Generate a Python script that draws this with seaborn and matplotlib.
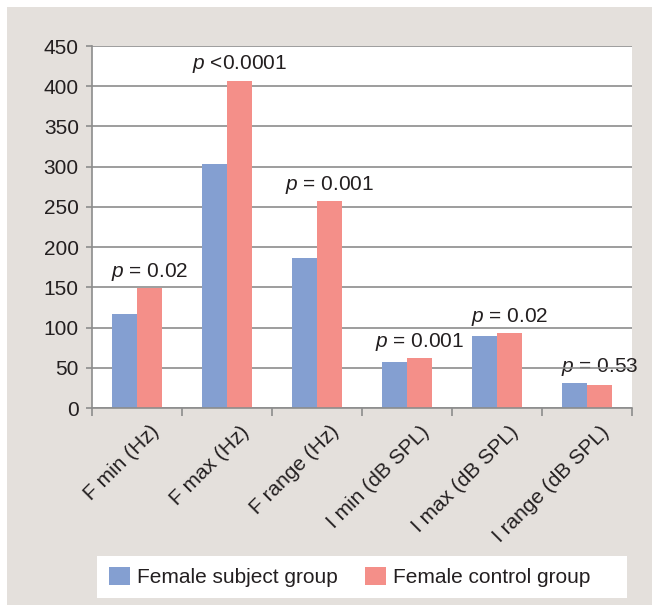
import numpy as np
import pandas as pd
import matplotlib
matplotlib.use('Agg')
import matplotlib.pyplot as plt
import matplotlib.transforms as mtransforms
from matplotlib.patches import Rectangle
import seaborn as sns

# Data
categories = ['F min (Hz)', 'F max (Hz)', 'F range (Hz)',
              'I min (dB SPL)', 'I max (dB SPL)', 'I range (dB SPL)']
subject_values = [117, 303, 186, 57, 89, 31]
control_values = [149, 407, 257, 62, 93, 29]
p_labels = [r'$p$ = 0.02', r'$p$ <0.0001', r'$p$ = 0.001',
            r'$p$ = 0.001', r'$p$ = 0.02', r'$p$ = 0.53']
group_names = ['Female subject group', 'Female control group']
y_ticks = [0, 50, 100, 150, 200, 250, 300, 350, 400, 450]

df = pd.DataFrame({
    'measure': categories * 2,
    'value': subject_values + control_values,
    'group': [group_names[0]] * len(categories) + [group_names[1]] * len(categories),
})

sns.set_style('white')
plt.rcParams['font.family'] = ['Liberation Sans', 'DejaVu Sans']
plt.rcParams['mathtext.fontset'] = 'custom'
plt.rcParams['mathtext.it'] = 'Liberation Sans:italic'
plt.rcParams['mathtext.rm'] = 'Liberation Sans'

text_color = '#231F20'
line_color = '#8C8C8C'
palette = {group_names[0]: '#849FD1', group_names[1]: '#F48F89'}

fig = plt.figure(figsize=(6.52, 6.05), dpi=100)
fig.patch.set_facecolor('white')
# grey panel behind the chart, white legend box
fig.patches.append(Rectangle((7 / 652, 0), 1, 1 - 7 / 605, transform=fig.transFigure,
                             facecolor='#E4E0DC', edgecolor='none', zorder=-10))
fig.patches.append(Rectangle((97 / 652, 7 / 605), 530 / 652, 42 / 605,
                             transform=fig.transFigure, facecolor='white',
                             edgecolor='none', zorder=-5))

ax = fig.add_axes([92 / 652, 197 / 605, 540 / 652, 362 / 605])
ax.set_facecolor('white')

sns.barplot(data=df, x='measure', y='value', hue='group', palette=palette,
            width=0.56, linewidth=0, saturation=1, ax=ax, legend=True)

ax.set_ylim(0, 450)
ax.set_xlim(-0.5, len(categories) - 0.5)
ax.set_yticks(y_ticks)
ax.set_xlabel('')
ax.set_ylabel('')
ax.set_axisbelow(True)
ax.yaxis.grid(True, color=line_color, linewidth=1.2)
ax.xaxis.grid(False)

for side in ['top', 'right']:
    ax.spines[side].set_visible(False)
for side in ['left', 'bottom']:
    ax.spines[side].set_color(line_color)
    ax.spines[side].set_linewidth(1.2)

ax.tick_params(axis='y', direction='out', length=4.5, width=1.2, color=line_color,
               labelsize=15, labelcolor=text_color, pad=5, left=True)
ax.set_xticks(np.arange(-0.5, len(categories), 1), minor=True)
ax.tick_params(axis='x', which='minor', direction='out', length=6, width=1.2,
               color=line_color, bottom=True)
ax.tick_params(axis='x', which='major', length=0, labelsize=15,
               labelcolor=text_color, pad=15)
offset = mtransforms.ScaledTranslation(0.19, 0, fig.dpi_scale_trans)
for lab in ax.get_xticklabels():
    lab.set_rotation(45)
    lab.set_ha('right')
    lab.set_va('center')
    lab.set_rotation_mode('anchor')
    lab.set_transform(lab.get_transform() + offset)

# p-value labels above the control bars
for i, label in enumerate(p_labels):
    top = max(subject_values[i], control_values[i])
    ax.annotate(label, (i + 0.14, top), xytext=(0, 4), textcoords='offset points',
                ha='center', va='bottom', fontsize=15, color=text_color,
                zorder=0.4, annotation_clip=False)

handles, labels = ax.get_legend_handles_labels()
ax.get_legend().remove()
leg = fig.legend(handles, labels, loc='center left', bbox_to_anchor=(97 / 652, 28 / 605),
                 ncol=2, fontsize=15, frameon=False, borderaxespad=0,
                 handlelength=1.0, handleheight=1.0, handletextpad=0.35,
                 columnspacing=1.3, borderpad=0.57, labelcolor=text_color)

fig.savefig('out.png', dpi=100)
